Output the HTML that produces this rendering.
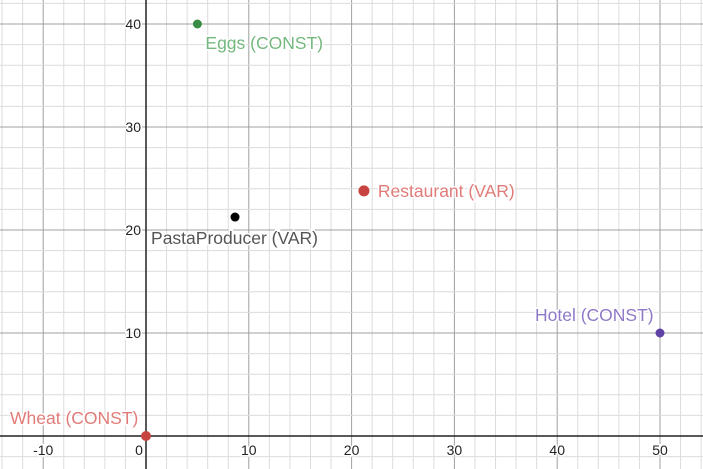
<!DOCTYPE html>
<html><head><meta charset="utf-8"><style>
html,body{margin:0;padding:0;background:#fff}
svg{display:block;font-family:"Liberation Sans",Arial,sans-serif}
</style></head><body>
<svg id="chart" width="703" height="469" viewBox="0 0 703 469">
<g id="grid"></g>
<g id="axes"></g>
<g id="ticks"></g>
<g id="points"></g>
</svg>
<script>
const names = ["Wheat (CONST)","Eggs (CONST)","PastaProducer (VAR)","Restaurant (VAR)","Hotel (CONST)"];
const xs = [0, 5, 8.66, 21.2, 50];
const ys = [0, 40, 21.26, 23.8, 10];
const colors = ["#c74440","#388c46","#000000","#c74440","#6042a6"];
const labelColors = ["#e07b78","#74b87e","#555555","#e07b78","#8f79c6"];
const radii = [5,4.5,4.5,5.5,4.5];
const labelDx = [-136,8,-84,14,-125];
const labelDy = [-12,25,27,6,-12];
const xTicks = [-10,0,10,20,30,40,50];
const yTicks = [10,20,30,40];

const X0=146, Y0=436, SX=10.28, SY=10.3;
const sx = v => X0 + v*SX;
const sy = v => Y0 - v*SY;
const NS="http://www.w3.org/2000/svg";
function mk(t,a,p){const e=document.createElementNS(NS,t);for(const k in a)e.setAttribute(k,a[k]);p.appendChild(e);return e;}
const grid=document.getElementById('grid');
for(let v=-14;v<=56;v+=2){
  const major=v%10===0;
  const l=mk('line',{x1:sx(v),x2:sx(v),y1:0,y2:469,stroke:major?'#a0a0a0':'#dcdcdc','stroke-width':1},grid);
  
  
}
for(let v=-4;v<=44;v+=2){
  const major=v%10===0;
  const l=mk('line',{x1:0,x2:703,y1:sy(v),y2:sy(v),stroke:major?'#a0a0a0':'#dcdcdc','stroke-width':1},grid);
  
  
}
const axes=document.getElementById('axes');
const xa=mk('line',{x1:0,x2:703,y1:sy(0),y2:sy(0),stroke:'#222','stroke-width':1.5},axes);


const ya=mk('line',{x1:sx(0),x2:sx(0),y1:0,y2:469,stroke:'#222','stroke-width':1.5},axes);


const tk=document.getElementById('ticks');
xTicks.forEach(v=>{
  const t=mk('text',{x:v===0?sx(0)-7:sx(v),y:sy(0)+19,'text-anchor':'middle','font-size':14,fill:'#222',stroke:'#fff','stroke-width':3,'paint-order':'stroke'},tk);
  t.textContent=v;
  
  
});
yTicks.forEach(v=>{
  const t=mk('text',{x:sx(0)-5,y:sy(v)+5,'text-anchor':'end','font-size':14,fill:'#222',stroke:'#fff','stroke-width':3,'paint-order':'stroke'},tk);
  t.textContent=v;
  
  
});
const pts=document.getElementById('points');
names.forEach((n,i)=>{
  const c=mk('circle',{cx:sx(xs[i]),cy:sy(ys[i]),r:radii[i],fill:colors[i]},pts);
  
  
  const t=mk('text',{x:sx(xs[i])+labelDx[i],y:sy(ys[i])+labelDy[i],'font-size':17.5,fill:labelColors[i],stroke:'#fff','stroke-width':3,'paint-order':'stroke'},pts);
  t.textContent=n;
  
  
});
</script>
</body></html>
